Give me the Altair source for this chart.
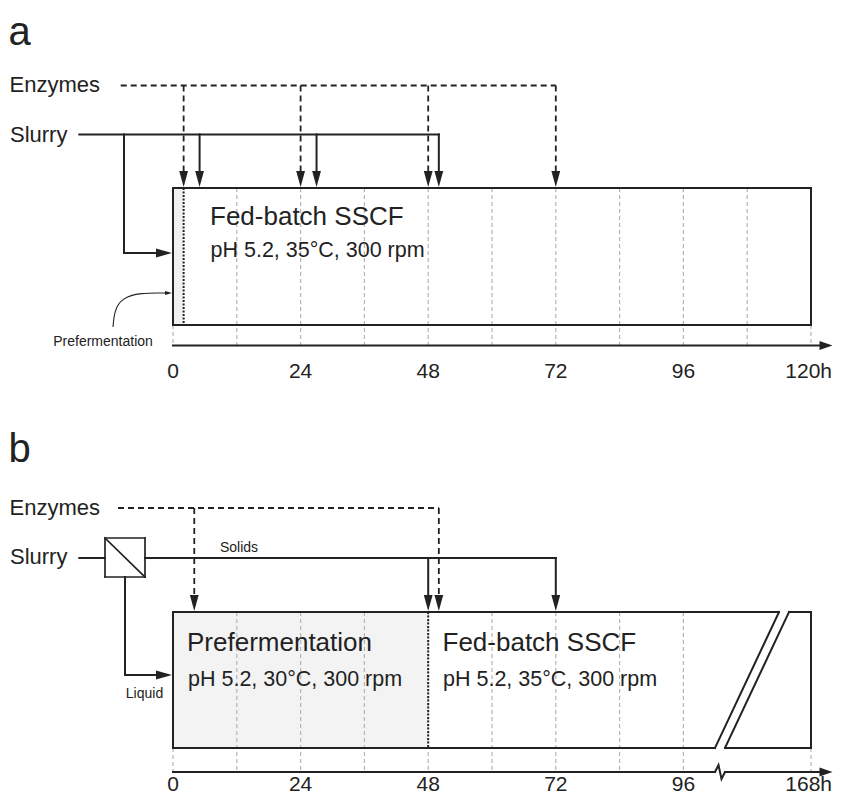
import altair as alt
import pandas as pd

# ---------------- data (process times in hours) ----------------
ENZYMES_A = [2, 24, 48, 72]          # enzyme additions, panel a
SLURRY_A = [5, 27, 50]               # slurry feeds, panel a
PREFERM_END_A = 2                    # end of short prefermentation, panel a
TICKS_A = [0, 24, 48, 72, 96, 120]
GRID_A = [0, 12, 24, 36, 48, 60, 72, 84, 96, 108, 120]

ENZYMES_B = [4, 50]                  # enzyme additions, panel b
SOLIDS_B = [48, 72]                  # solids feeds, panel b
PREFERM_END_B = 48                   # end of prefermentation, panel b
TICKS_B = [0, 24, 48, 72, 96, 168]
GRID_B = [0, 12, 24, 36, 48, 60, 72, 84, 96, 168]

LETTERS = ["a", "b"]
FEEDS = ["Enzymes", "Slurry"]
PHASE_A = "Fed-batch SSCF"
COND_A = "pH 5.2, 35°C, 300 rpm"
PHASES_B = ["Prefermentation", "Fed-batch SSCF"]
CONDS_B = ["pH 5.2, 30°C, 300 rpm", "pH 5.2, 35°C, 300 rpm"]
NOTE_A = "Prefermentation"
NOTES_B = ["Solids", "Liquid"]
UNIT = "h"

# ---------------- layout helpers ----------------
PX_PER_H = 638 / 120
X0_PX = 173


def H(px):
    """layout position (page px) -> hours on the x scale"""
    return (px - X0_PX) / PX_PER_H


def disp_b(h):
    """broken time axis of panel b: 168 h drawn where 120 h would be"""
    return h if h <= 96 else h - 48


W, HT = 825, 787
INK = "#222222"

LA = dict(enz=85.5, sl=134.5, top=188, bot=325, axis=345.5, side=253)
LB = dict(enz=508, sl=558, top=612, bot=748, axis=772, side=675)

solid, dashed, grid, dotted, thin = [], [], [], [], []
fills, heads, texts = [], [], []
DOWN = "M-0.55,-1L0.55,-1L0,1Z"
RIGHT = "M-1,-0.55L1,0L-1,0.55Z"
AXR = "M-1,-0.7L1,0L-1,0.7Z"
AX_TIP = 832.5


def seg(lst, x, y, x2, y2):
    lst.append(dict(x=x, y=y, x2=x2, y2=y2))


def head(x, y, shape, size):
    heads.append(dict(x=x, y=y, shape=shape, size=size))


def txt(x, y, t, fs, align):
    texts.append(dict(x=x, y=y, t=t, fs=fs, align=align))


# ---------------- panel a ----------------
L = LA
fills.append(dict(x=0, x2=120, y=L["top"], y2=L["bot"], c="#ffffff"))
fills.append(dict(x=0, x2=PREFERM_END_A, y=L["top"], y2=L["bot"], c="#f1f1f1"))
for g in GRID_A:
    y0 = L["bot"] if g in (0, 120) else L["top"]
    seg(grid, g, y0, g, L["axis"])
# enzymes
seg(dashed, H(120.7), L["enz"], max(ENZYMES_A), L["enz"])
for t in ENZYMES_A:
    seg(dashed, t, L["enz"], t, L["top"] - 9)
    head(t, L["top"] - 9, DOWN, 256)
seg(dotted, PREFERM_END_A, L["top"], PREFERM_END_A, L["bot"])
# slurry
seg(solid, H(79.3), L["sl"], max(SLURRY_A), L["sl"])
for t in SLURRY_A:
    seg(solid, t, L["sl"], t, L["top"] - 9)
    head(t, L["top"] - 9, DOWN, 256)
seg(solid, H(124), L["sl"], H(124), L["side"])
seg(solid, H(124), L["side"], H(164), L["side"])
head(H(164), L["side"], RIGHT, 256)
# box outline
seg(solid, 0, L["top"], 0 + 120, L["top"])
seg(solid, 0, L["bot"], 120, L["bot"])
seg(solid, 0, L["top"], 0, L["bot"])
seg(solid, 120, L["top"], 120, L["bot"])
# axis
seg(solid, 0, L["axis"], H(AX_TIP - 11), L["axis"])
head(H(AX_TIP - 6.5), L["axis"], AXR, 169)
curve = [(113, 327), (114.5, 310), (122, 298), (140, 292.7), (166, 293)]
curve_df = pd.DataFrame([dict(x=H(px), y=py, o=i) for i, (px, py) in enumerate(curve)])
head(H(168.5), 293, RIGHT, 49)
# texts
txt(H(8.5), 44.5, LETTERS[0], 40, "left")
txt(H(9.5), 91.7, FEEDS[0], 22, "left")
txt(H(10), 141.5, FEEDS[1], 22, "left")
txt(H(210), 225, PHASE_A, 26, "left")
txt(H(210.5), 256.5, COND_A, 21.5, "left")
txt(H(103), 346, NOTE_A, 14, "center")
for v in TICKS_A[:-1]:
    txt(v, 378, str(v), 21, "center")
txt(H(832), 378, f"{TICKS_A[-1]}{UNIT}", 21, "right")

# ---------------- panel b ----------------
L = LB
fills.append(dict(x=0, x2=PREFERM_END_B, y=L["top"], y2=L["bot"], c="#f3f3f3"))
for g in GRID_B:
    y0 = L["bot"] if g in (0, 168) else L["top"]
    seg(grid, disp_b(g), y0, disp_b(g), L["axis"])
# enzymes
seg(dashed, H(118), L["enz"], max(ENZYMES_B), L["enz"])
for t in ENZYMES_B:
    seg(dashed, t, L["enz"], t, L["top"] - 9)
    head(t, L["top"] - 9, DOWN, 256)
# separator + slurry
sx0, sx1, sy0, sy1 = H(105), H(145), 538, 577
seg(solid, H(79.3), L["sl"], sx0, L["sl"])
seg(thin, sx0, sy0, sx1, sy0)
seg(thin, sx0, sy1, sx1, sy1)
seg(thin, sx0, sy0, sx0, sy1)
seg(thin, sx1, sy0, sx1, sy1)
seg(thin, sx0, sy0, sx1, sy1)
seg(solid, sx1, L["sl"], max(SOLIDS_B), L["sl"])
for t in SOLIDS_B:
    seg(solid, t, L["sl"], t, L["top"] - 9)
    head(t, L["top"] - 9, DOWN, 256)
seg(solid, H(125), sy1, H(125), L["side"])
seg(solid, H(125), L["side"], H(164), L["side"])
head(H(164), L["side"], RIGHT, 256)
seg(dotted, PREFERM_END_B, L["top"], PREFERM_END_B, L["bot"])
# broken box outline
e = disp_b(168)
seg(solid, 0, L["top"], 0, L["bot"])
seg(solid, 0, L["top"], H(779), L["top"])
seg(solid, H(779), L["top"], H(715), L["bot"])
seg(solid, H(715), L["bot"], 0, L["bot"])
seg(solid, H(789), L["top"], e, L["top"])
seg(solid, e, L["top"], e, L["bot"])
seg(solid, e, L["bot"], H(725), L["bot"])
seg(solid, H(725), L["bot"], H(789), L["top"])
# broken axis
seg(solid, 0, L["axis"], H(715), L["axis"])
seg(solid, H(725), L["axis"], H(AX_TIP - 11), L["axis"])
head(H(AX_TIP - 6.5), L["axis"], AXR, 169)
zig = [(715, 772), (718.5, 765), (721.5, 779), (725, 772)]
zig_df = pd.DataFrame([dict(x=H(px), y=py, o=i) for i, (px, py) in enumerate(zig)])
# texts
txt(H(8.5), 462, LETTERS[1], 40, "left")
txt(H(9.5), 514.5, FEEDS[0], 22, "left")
txt(H(10), 564, FEEDS[1], 22, "left")
txt(H(239), 551.5, NOTES_B[0], 14, "center")
txt(H(144.5), 697.5, NOTES_B[1], 14, "center")
txt(H(187), 650.7, PHASES_B[0], 26, "left")
txt(H(188), 686, CONDS_B[0], 21.5, "left")
txt(H(442.5), 650.7, PHASES_B[1], 26, "left")
txt(H(443), 686, CONDS_B[1], 21.5, "left")
for v in TICKS_B[:-1]:
    txt(disp_b(v), 790.5, str(v), 21, "center")
txt(H(832), 790.5, f"{TICKS_B[-1]}{UNIT}", 21, "right")

# ---------------- chart ----------------
xs = alt.Scale(domain=[H(8), H(8 + W)], nice=False, zero=False)
ys = alt.Scale(domain=[8, 8 + HT], reverse=True, nice=False, zero=False)
X = alt.X("x:Q", scale=xs, axis=None)
Y = alt.Y("y:Q", scale=ys, axis=None)


def rules(lst, **kw):
    return alt.Chart(pd.DataFrame(lst)).mark_rule(**kw).encode(
        x=X, y=Y, x2="x2:Q", y2="y2:Q")


fill_layer = alt.Chart(pd.DataFrame(fills)).mark_rect(strokeWidth=0).encode(
    x=X, x2="x2:Q", y=Y, y2="y2:Q", color=alt.Color("c:N", scale=None))
grid_layer = rules(grid, color="#b5b5b5", strokeWidth=1.2, strokeDash=[4, 3])
dash_layer = rules(dashed, color=INK, strokeWidth=1.8, strokeDash=[6, 4])
dot_layer = rules(dotted, color=INK, strokeWidth=2, strokeDash=[2, 1.5])
solid_layer = rules(solid, color=INK, strokeWidth=2, strokeCap="square")
thin_layer = rules(thin, color=INK, strokeWidth=1.7, strokeCap="square")
curve_layer = alt.Chart(curve_df).mark_line(
    color=INK, strokeWidth=1.1, interpolate="basis").encode(x=X, y=Y, order="o:Q")
zig_layer = alt.Chart(zig_df).mark_line(color=INK, strokeWidth=2).encode(
    x=X, y=Y, order="o:Q")
head_layer = alt.Chart(pd.DataFrame(heads)).mark_point(
    filled=True, color=INK, opacity=1, strokeWidth=0).encode(
    x=X, y=Y, shape=alt.Shape("shape:N", scale=None), size=alt.Size("size:Q", scale=None))

tdf = pd.DataFrame(texts)
FONT = "Liberation Sans"


def text_layer(al):
    return alt.Chart(tdf).transform_filter(alt.datum.align == al).mark_text(
        align=al, baseline="alphabetic", font=FONT, color=INK).encode(
        x=X, y=Y, text="t:N", size=alt.Size("fs:Q", scale=None))


chart = alt.layer(
    fill_layer, grid_layer, dash_layer, dot_layer, curve_layer, zig_layer,
    solid_layer, thin_layer, head_layer,
    text_layer("left"), text_layer("center"), text_layer("right")
).properties(
    width=W, height=HT, padding=0, autosize=alt.AutoSizeParams(type="none"),
    background="white"
).configure_view(stroke=None)

chart.save("out.html", embed_options={"renderer": "svg", "actions": False})
